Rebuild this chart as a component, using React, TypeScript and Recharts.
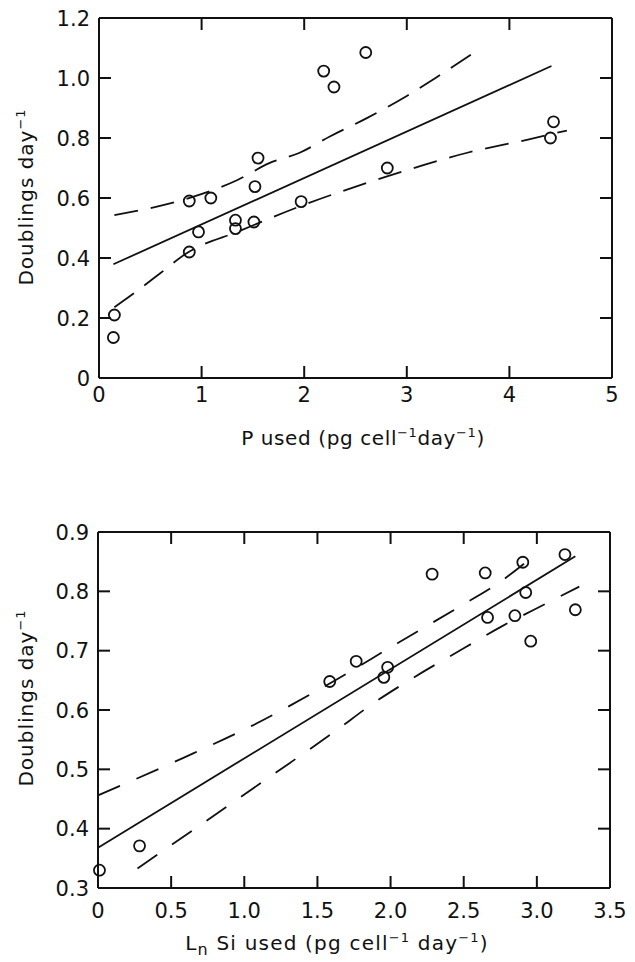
import React from "react";
import { ComposedChart, Line, Scatter, XAxis, YAxis, Label } from "recharts";

// ---------- Top panel: P used ----------
const pUsed = [0.15, 0.14, 0.88, 0.88, 1.09, 0.97, 1.33, 1.33, 1.52, 1.55, 1.51, 1.97, 2.19, 2.29, 2.6, 2.81, 4.43, 4.4];
const pDoublings = [0.21, 0.135, 0.42, 0.59, 0.6, 0.487, 0.526, 0.498, 0.638, 0.733, 0.52, 0.588, 1.023, 0.97, 1.085, 0.7, 0.854, 0.8];
const pFitX = [0.14, 4.41];
const pFitY = [0.379, 1.04];
const pUpperX = [0.15, 0.9, 1.35, 1.66, 1.95, 2.25, 2.62, 3.0, 3.28, 3.72];
const pUpperY = [0.543, 0.602, 0.66, 0.716, 0.75, 0.805, 0.868, 0.94, 1.0, 1.1];
const pLowerX = [0.15, 0.35, 0.6, 0.85, 1.37, 1.95, 2.8, 3.58, 4.17, 4.56];
const pLowerY = [0.236, 0.285, 0.35, 0.415, 0.49, 0.571, 0.671, 0.75, 0.794, 0.825];
const pXTicks = [0, 1, 2, 3, 4, 5];
const pYTicks = [0, 0.2, 0.4, 0.6, 0.8, 1.0, 1.2];

// ---------- Bottom panel: Ln Si used ----------
const siUsed = [0.01, 0.284, 1.584, 1.765, 1.98, 1.954, 2.284, 2.647, 2.663, 2.85, 2.904, 2.924, 2.958, 3.192, 3.263];
const siDoublings = [0.33, 0.371, 0.648, 0.682, 0.672, 0.655, 0.829, 0.831, 0.756, 0.759, 0.849, 0.798, 0.716, 0.862, 0.769];
const siFitX = [0, 3.263];
const siFitY = [0.368, 0.859];
const siUpperX = [0, 0.58, 1.04, 1.55, 2.05, 2.47, 2.72, 2.99];
const siUpperY = [0.456, 0.519, 0.572, 0.64, 0.713, 0.774, 0.811, 0.862];
const siLowerX = [0.27, 1.16, 1.62, 1.88, 2.14, 2.5, 2.76, 2.98, 3.29];
const siLowerY = [0.333, 0.485, 0.564, 0.611, 0.652, 0.704, 0.741, 0.769, 0.808];
const siXTicks = [0, 0.5, 1.0, 1.5, 2.0, 2.5, 3.0, 3.5];
const siYTicks = [0.3, 0.4, 0.5, 0.6, 0.7, 0.8, 0.9];

const zip = (xs: number[], ys: number[]) => xs.map((x, i) => ({ x, y: ys[i] }));

const FONT = "DejaVu Sans";
const INK = "#111";
const TICK_LEN = 12;
const CHART_W = 635;

const OpenCircle = (props: any) => {
  const { cx, cy } = props;
  if (cx == null || cy == null) return null;
  return <circle cx={cx} cy={cy} r={5.5} fill="none" stroke={INK} strokeWidth={1.8} />;
};

const fmtTop = (v: number) => (v === 0 ? "0" : v.toFixed(1));

// Tick renderers: inward tick marks on both opposite frame sides + label
const makeBottomTick = (margin: number, plotTop: number, fmt: (v: number) => string) => (props: any) => {
  const { x, y, payload } = props;
  const ay = y - margin;
  const v = payload.value;
  const isEdge = v === payload.__first || false;
  return (
    <g>
      <line x1={x} x2={x} y1={ay} y2={ay - TICK_LEN} stroke={INK} strokeWidth={2} />
      <line x1={x} x2={x} y1={plotTop} y2={plotTop + TICK_LEN} stroke={INK} strokeWidth={2} />
      <text x={x} y={y} dy="0.72em" textAnchor="middle" fontSize={21} fontFamily={FONT} fill={INK}>
        {fmt(v)}
      </text>
    </g>
  );
};
const makeLeftTick = (margin: number, plotRight: number, fmt: (v: number) => string) => (props: any) => {
  const { x, y, payload } = props;
  const ax = x + margin;
  return (
    <g>
      <line x1={ax} x2={ax + TICK_LEN} y1={y} y2={y} stroke={INK} strokeWidth={2} />
      <line x1={plotRight} x2={plotRight - TICK_LEN} y1={y} y2={y} stroke={INK} strokeWidth={2} />
      <text x={x} y={y} dy="0.36em" textAnchor="end" fontSize={21} fontFamily={FONT} fill={INK}>
        {fmt(payload.value)}
      </text>
    </g>
  );
};

type PanelProps = {
  points: { x: number; y: number }[];
  fit: { x: number; y: number }[];
  upper: { x: number; y: number }[];
  lower: { x: number; y: number }[];
  xTicks: number[];
  yTicks: number[];
  xFmt: (v: number) => string;
  yFmt: (v: number) => string;
  height: number;
  margin: { top: number; right: number; bottom: number; left: number };
  xTickMargin: number;
  dash: string;
  xLabel: React.ReactNode;
  yLabel: React.ReactNode;
};

const Panel = (p: PanelProps) => {
  const xDom: [number, number] = [p.xTicks[0], p.xTicks[p.xTicks.length - 1]];
  const yDom: [number, number] = [p.yTicks[0], p.yTicks[p.yTicks.length - 1]];
  const axisStroke = { stroke: INK, strokeWidth: 2 };
  const plotTop = p.margin.top;
  const plotRight = CHART_W - p.margin.right;
  // inner ticks only where they don't coincide with the frame corners
  const xInner = p.xTicks.slice(1, -1);
  const yInner = p.yTicks.slice(1, -1);
  return (
    <ComposedChart width={CHART_W} height={p.height} margin={p.margin}>
      <XAxis
        xAxisId="b"
        type="number"
        dataKey="x"
        domain={xDom}
        ticks={p.xTicks}
        interval={0}
        height={40}
        tickSize={0}
        tickMargin={p.xTickMargin}
        tick={(props: any) =>
          xInner.includes(props.payload.value)
            ? makeBottomTick(p.xTickMargin, plotTop, p.xFmt)(props)
            : (
              <text x={props.x} y={props.y} dy="0.72em" textAnchor="middle" fontSize={21} fontFamily={FONT} fill={INK}>
                {p.xFmt(props.payload.value)}
              </text>
            )
        }
        axisLine={axisStroke}
        tickLine={false}
      >
        <Label content={() => p.xLabel} />
      </XAxis>
      <XAxis
        xAxisId="t"
        orientation="top"
        type="number"
        domain={xDom}
        mirror
        height={30}
        tick={false}
        axisLine={axisStroke}
        tickLine={false}
      />
      <YAxis
        yAxisId="l"
        type="number"
        dataKey="y"
        domain={yDom}
        ticks={p.yTicks}
        interval={0}
        width={60}
        tickSize={0}
        tickMargin={9}
        tick={(props: any) =>
          yInner.includes(props.payload.value)
            ? makeLeftTick(9, plotRight, p.yFmt)(props)
            : (
              <text x={props.x} y={props.y} dy="0.36em" textAnchor="end" fontSize={21} fontFamily={FONT} fill={INK}>
                {p.yFmt(props.payload.value)}
              </text>
            )
        }
        axisLine={axisStroke}
        tickLine={false}
      >
        <Label content={() => p.yLabel} />
      </YAxis>
      <YAxis
        yAxisId="r"
        orientation="right"
        type="number"
        domain={yDom}
        mirror
        width={30}
        tick={false}
        axisLine={axisStroke}
        tickLine={false}
      />
      <Line xAxisId="b" yAxisId="l" data={p.fit} dataKey="y" type="linear" stroke={INK} strokeWidth={1.8} dot={false} isAnimationActive={false} />
      <Line xAxisId="b" yAxisId="l" data={p.upper} dataKey="y" type="monotone" stroke={INK} strokeWidth={1.8} strokeDasharray={p.dash} dot={false} isAnimationActive={false} />
      <Line xAxisId="b" yAxisId="l" data={p.lower} dataKey="y" type="monotone" stroke={INK} strokeWidth={1.8} strokeDasharray={p.dash} dot={false} isAnimationActive={false} />
      <Scatter xAxisId="b" yAxisId="l" data={p.points} dataKey="y" shape={OpenCircle} isAnimationActive={false} />
    </ComposedChart>
  );
};

export default function App() {
  const topXLabel = (
    <text x={363} y={445} textAnchor="middle" fontSize={20} letterSpacing={0.6} fontFamily={FONT} fill={INK}>
      P used (pg cell<tspan dy={-8} fontSize={13}>−1</tspan>
      <tspan dy={8} fontSize={20}>day</tspan>
      <tspan dy={-8} fontSize={13}>−1</tspan>
      <tspan dy={8} fontSize={20}>)</tspan>
    </text>
  );
  const yLabel = (cy: number) => (
    <text transform={`translate(33,${cy}) rotate(-90)`} x={0} y={0} textAnchor="middle" fontSize={20} letterSpacing={1} fontFamily={FONT} fill={INK}>
      Doublings day<tspan dy={-8} fontSize={13}>−1</tspan>
    </text>
  );
  const botXLabel = (
    <text x={337} y={480} textAnchor="middle" fontSize={20} letterSpacing={1.2} fontFamily={FONT} fill={INK}>
      L<tspan dy={5} fontSize={16}>n</tspan>
      <tspan dy={-5} fontSize={20}>{"  Si  used (pg cell"}</tspan>
      <tspan dy={-8} fontSize={13}>−1</tspan>
      <tspan dy={8} fontSize={20}>{" day"}</tspan>
      <tspan dy={-8} fontSize={13}>−1</tspan>
      <tspan dy={8} fontSize={20}>)</tspan>
    </text>
  );
  return (
    <div style={{ position: "absolute", left: 0, top: 0, width: 635, height: 962, background: "#fff" }}>
      <div style={{ position: "absolute", left: 0, top: 0 }}>
        <Panel
          points={zip(pUsed, pDoublings)}
          fit={zip(pFitX, pFitY)}
          upper={zip(pUpperX, pUpperY)}
          lower={zip(pLowerX, pLowerY)}
          xTicks={pXTicks}
          yTicks={pYTicks}
          xFmt={(v) => String(v)}
          yFmt={fmtTop}
          height={470}
          margin={{ top: 18, right: 23, bottom: 52, left: 39 }}
          xTickMargin={9}
          dash="24 13"
          xLabel={topXLabel}
          yLabel={yLabel(197)}
        />
      </div>
      <div style={{ position: "absolute", left: 0, top: 470 }}>
        <Panel
          points={zip(siUsed, siDoublings)}
          fit={zip(siFitX, siFitY)}
          upper={zip(siUpperX, siUpperY)}
          lower={zip(siLowerX, siLowerY)}
          xTicks={siXTicks}
          yTicks={siYTicks}
          xFmt={(v) => (v === 0 ? "0" : v.toFixed(1))}
          yFmt={(v) => v.toFixed(1)}
          height={492}
          margin={{ top: 62, right: 25, bottom: 34, left: 38 }}
          xTickMargin={15}
          dash="24 18"
          xLabel={botXLabel}
          yLabel={yLabel(228)}
        />
      </div>
    </div>
  );
}
